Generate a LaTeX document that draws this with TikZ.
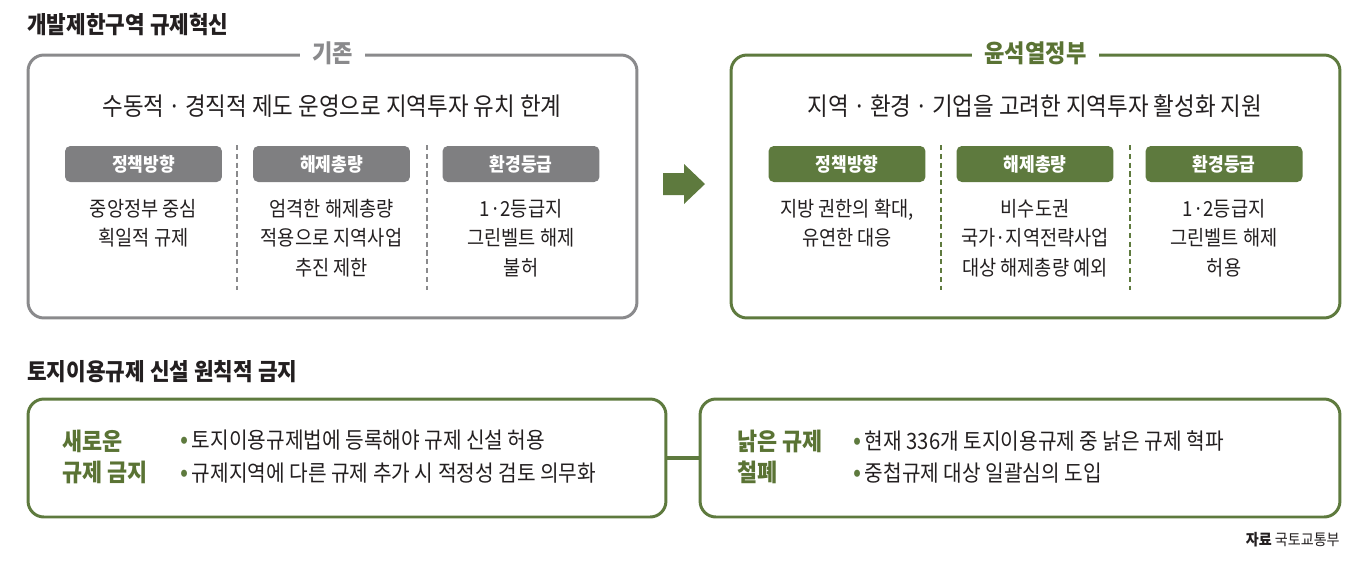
\documentclass[tikz,border=0pt]{standalone}
\usepackage{fontspec}
\setmainfont{Noto Sans CJK KR}[FakeStretch=0.9]
\usepackage{xcolor}
\usetikzlibrary{positioning}
\definecolor{grn}{HTML}{5E7A3E}
\definecolor{grntxt}{HTML}{5A7334}
\definecolor{gry}{HTML}{8A8A8C}
\definecolor{pillgry}{HTML}{7F7F81}
\definecolor{ink}{HTML}{231F20}
\newcommand\bul{{\color{grn}\fontsize{15}{18.7}\selectfont•}\kern2pt}

\begin{document}
\begin{tikzpicture}[x=0.02cm,y=-0.02cm,
  frame/.style={draw,line width=1.7pt,rounded corners=9pt,minimum width=12.18cm,minimum height=5.26cm},
  lowframe/.style={draw=grn,line width=1.7pt,rounded corners=9pt,minimum height=2.36cm},
  tag/.style={fill=white,inner xsep=7pt,inner ysep=1pt,font=\fontsize{14}{16}\selectfont\bfseries},
  pill/.style={rounded corners=3pt,minimum width=3.14cm,minimum height=0.72cm,inner sep=0pt,text=white,font=\fontsize{10.8}{12}\selectfont\bfseries},
  body/.style={align=center,inner sep=0pt,text=ink,font=\fontsize{11.8}{16.7}\selectfont},
  lead/.style={align=center,inner sep=0pt,text=ink,font=\fontsize{14.2}{16}\selectfont},
  head/.style={anchor=west,inner sep=0pt,text=ink,font=\fontsize{13.5}{15}\selectfont\bfseries},
  divider/.style={line width=0.6pt,dash pattern=on 3pt off 2pt},
  pick/.style={anchor=west,align=left,inner sep=0pt,text=grntxt,font=\fontsize{13.8}{18}\selectfont\bfseries},
  items/.style={anchor=west,align=left,inner sep=0pt,text=ink,font=\fontsize{12.8}{18.7}\selectfont}]
 \useasboundingbox (0,0) rectangle (1369,566);
 \node[head] (title) at (27,25) {개발제한구역 규제혁신};
 \node[frame,draw=gry] (old) at (332.5,186.5) {};
 \node[frame,draw=grn] (new) at (1035.5,186.5) {};
 \node[tag,text=gry] (oldtag) at (old.north) {기존};
 \node[tag,text=grntxt] (newtag) at (new.north) {윤석열정부};
 \node[lead] (oldlead) at (332,106) {수동적\,·\,경직적 제도 운영으로 지역투자 유치 한계};
 \node[lead] (newlead) at (1035,106) {지역\,·\,환경\,·\,기업을 고려한 지역투자 활성화 지원};
 \node[pill,fill=pillgry] (op1) at (143.5,164) {정책방향};
 \node[pill,fill=pillgry] (op2) at (331.5,164) {해제총량};
 \node[pill,fill=pillgry] (op3) at (521,164) {환경등급};
 \node[pill,fill=grn] (np1) at (847,164) {정책방향};
 \node[pill,fill=grn] (np2) at (1035,164) {해제총량};
 \node[pill,fill=grn] (np3) at (1224,164) {환경등급};
 \node[body] (ob1) at (143.5,223) {중앙정부 중심\\획일적 규제};
 \node[body] (ob2) at (331.5,238) {엄격한 해제총량\\적용으로 지역사업\\추진 제한};
 \node[body] (ob3) at (521,238) {1·2등급지\\그린벨트 해제\\불허};
 \node[body] (nb1) at (847,223) {지방 권한의 확대,\\유연한 대응};
 \node[body] (nb2) at (1035,238) {비수도권\\국가·지역전략사업\\대상 해제총량 예외};
 \node[body] (nb3) at (1224,238) {1·2등급지\\그린벨트 해제\\허용};
 \draw[divider,gry] (237,145) -- (237,290);
 \draw[divider,gry] (427,145) -- (427,290);
 \draw[divider,grn] (941,145) -- (941,290);
 \draw[divider,grn] (1130,145) -- (1130,290);
 \fill[grn] (663,173) -- (684,173) -- (684,164) -- (705,184) -- (684,204) -- (684,195) -- (663,195) -- cycle;
 \node[head] (title2) at (27,372) {토지이용규제 신설 원칙적 금지};
 \node[lowframe,minimum width=12.76cm] (ban) at (347,458) {};
 \node[lowframe,minimum width=12.8cm] (cut) at (1020,458) {};
 \draw[grn,line width=2.3pt] (ban.east) -- (cut.west);
 \node[pick] (banlbl) at (62,457) {새로운\\규제 금지};
 \node[items] (banlist) at (180,457) {\bul 토지이용규제법에 등록해야 규제 신설 허용\\\bul 규제지역에 다른 규제 추가 시 적정성 검토 의무화};
 \node[pick] (cutlbl) at (737,457) {낡은 규제\\철폐};
 \node[items] (cutlist) at (853,457) {\bul 현재 336개 토지이용규제 중 낡은 규제 혁파\\\bul 중첩규제 대상 일괄심의 도입};
 \node[anchor=east,inner sep=0pt,text=ink,font=\fontsize{8.9}{10}\selectfont] (src) at (1340,540) {\textbf{자료} 국토교통부};
\end{tikzpicture}
\end{document}
